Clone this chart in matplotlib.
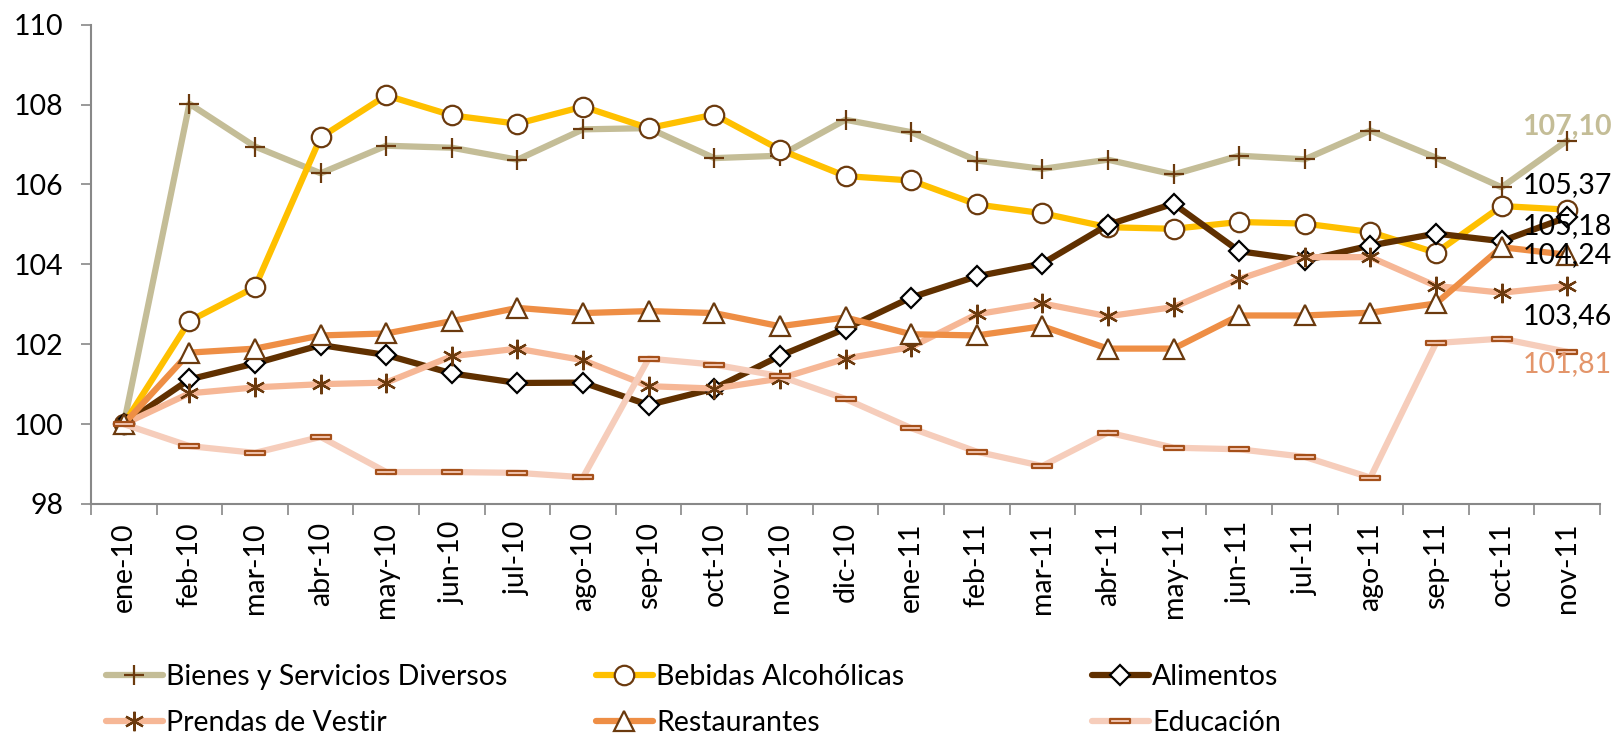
import numpy as np
import matplotlib
matplotlib.use("Agg")
import matplotlib.pyplot as plt
from matplotlib.path import Path

plt.rcParams['font.family'] = ['Lato', 'DejaVu Sans']

categories = ["ene-10", "feb-10", "mar-10", "abr-10", "may-10", "jun-10", "jul-10", "ago-10",
              "sep-10", "oct-10", "nov-10", "dic-10", "ene-11", "feb-11", "mar-11", "abr-11",
              "may-11", "jun-11", "jul-11", "ago-11", "sep-11", "oct-11", "nov-11"]

bienes = [100, 108.02, 106.95, 106.28, 106.97, 106.92, 106.62, 107.38, 107.41, 106.66, 106.72,
          107.62, 107.31, 106.60, 106.39, 106.62, 106.25, 106.72, 106.63, 107.35, 106.67, 105.93, 107.10]
bebidas = [100, 102.58, 103.43, 107.18, 108.23, 107.73, 107.52, 107.95, 107.41, 107.75, 106.87,
           106.21, 106.10, 105.50, 105.28, 104.93, 104.89, 105.06, 105.02, 104.81, 104.29, 105.46, 105.37]
alimentos = [100, 101.12, 101.52, 101.98, 101.73, 101.27, 101.03, 101.04, 100.48, 100.89, 101.71,
             102.39, 103.17, 103.70, 104.02, 104.99, 105.52, 104.33, 104.10, 104.47, 104.77, 104.58, 105.18]
prendas = [100, 100.77, 100.92, 101.00, 101.04, 101.70, 101.89, 101.60, 100.95, 100.89, 101.14,
           101.64, 101.93, 102.75, 103.02, 102.70, 102.93, 103.63, 104.18, 104.18, 103.46, 103.29, 103.46]
restaurantes = [100, 101.79, 101.89, 102.22, 102.27, 102.58, 102.91, 102.78, 102.83, 102.78, 102.45,
                102.67, 102.25, 102.22, 102.45, 101.89, 101.89, 102.72, 102.72, 102.79, 103.02, 104.43, 104.24]
educacion = [100, 99.45, 99.28, 99.68, 98.80, 98.80, 98.78, 98.67, 101.64, 101.49, 101.20,
             100.63, 99.90, 99.31, 98.95, 99.79, 99.41, 99.37, 99.18, 98.66, 102.03, 102.14, 101.81]

names = ["Bienes y Servicios Diversos", "Bebidas Alcohólicas", "Alimentos",
         "Prendas de Vestir", "Restaurantes", "Educación"]
end_labels = ["107,10", "105,37", "105,18", "103,46", "104,24", "101,81"]

dash = Path([(-1, -0.24), (1, -0.24), (1, 0.24), (-1, 0.24), (-1, -0.24)],
            [Path.MOVETO, Path.LINETO, Path.LINETO, Path.LINETO, Path.CLOSEPOLY])
brown = "#6B3A0E"
styles = [
    dict(color="#C4BD97", marker="+", ms=14, mec=brown, mew=1.6),
    dict(color="#FFC000", marker="o", ms=14, mfc="white", mec=brown, mew=1.6),
    dict(color="#603000", marker="D", ms=10.5, mfc="white", mec="black", mew=1.6),
    dict(color="#F6B796", marker=(6, 2, 0), ms=14, mec=brown, mew=1.6),
    dict(color="#EE8E45", marker="^", ms=14, mfc="white", mec=brown, mew=1.6),
    dict(color="#F6CDBB", marker=dash, ms=15, mfc="#F6CDBB", mec="#A5501A", mew=1.6),
]
series = [bienes, bebidas, alimentos, prendas, restaurantes, educacion]

FS = 20.5
fig = plt.figure(figsize=(16.16, 7.37), dpi=100)
ax = fig.add_axes([91 / 1616, 1 - 504 / 737, (1600 - 91) / 1616, (504 - 24.7) / 737])

x = np.arange(len(categories))
lines = []
for vals, st, nm in zip(series, styles, names):
    ln, = ax.plot(x, vals, lw=4.5, label=nm, solid_joinstyle="round", solid_capstyle="round", **st)
    lines.append(ln)

# end labels
label_specs = [
    (0, 14, "#C4BD97", "bold"),
    (1, 25, "black", "normal"),
    (2, -9, "black", "normal"),
    (3, -30, "black", "normal"),
    (4, 0, "black", "normal"),
    (5, -12, "#E3956A", "normal"),
]
for idx, dy, col, fw in label_specs:
    ax.annotate(end_labels[idx], xy=(x[-1], series[idx][-1]), xytext=(0, dy),
                textcoords="offset pixels", ha="center", va="center", fontsize=FS,
                color=col, fontweight=fw, annotation_clip=False)

ax.set_xlim(-0.5, len(categories) - 0.5)
ax.set_ylim(98, 110)
ax.set_yticks(np.arange(98, 111, 2))
ax.set_yticklabels([str(v) for v in range(98, 111, 2)], fontsize=FS)
ax.set_xticks(np.arange(-0.5, len(categories), 1))
ax.set_xticklabels([])
ax.set_xticks(x, minor=True)
ax.set_xticklabels(categories, minor=True, rotation=90, fontsize=FS)
ax.tick_params(axis="x", which="major", length=8, width=1.2, color="#888888", direction="out")
ax.tick_params(axis="x", which="minor", length=0, pad=13)
ax.tick_params(axis="y", length=7, width=1.2, color="#888888", pad=13)
for s in ["top", "right"]:
    ax.spines[s].set_visible(False)
for s in ["left", "bottom"]:
    ax.spines[s].set_color("#888888")
    ax.spines[s].set_linewidth(1.5)

# legend: three columns of two rows
cols = [(0, 3), (1, 4), (2, 5)]
xs = [106, 596, 1092]
for (a, b), xl in zip(cols, xs):
    fig.legend([lines[a], lines[b]], [names[a], names[b]], loc="center left",
               bbox_to_anchor=(xl / 1616, 1 - 700 / 737), frameon=False, fontsize=FS,
               handlelength=2.0, handletextpad=0.12, borderpad=0, borderaxespad=0,
               labelspacing=0.68, numpoints=1)

fig.savefig("out.png", dpi=100, facecolor="white")
